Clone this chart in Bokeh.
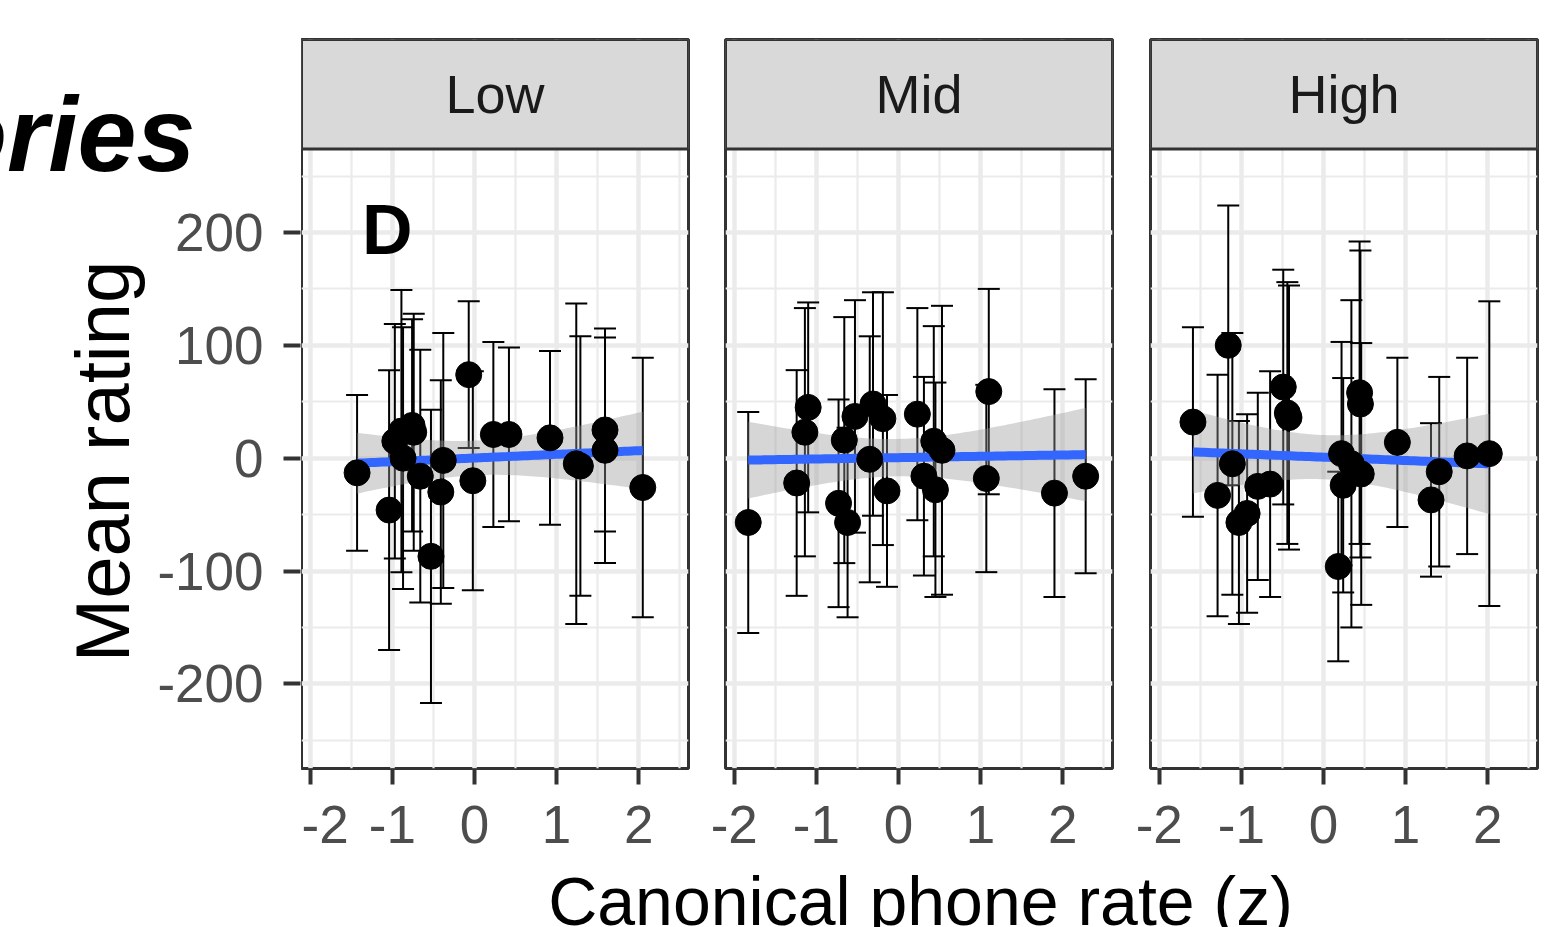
import numpy as np
from bokeh.plotting import figure
from bokeh.models import ColumnDataSource, Whisker, TeeHead, FixedTicker, Label, Range1d, Title
from bokeh.layouts import row, column
from bokeh.embed import file_html
from bokeh.resources import INLINE

# ---------------- data ----------------
facets = ["Low", "Mid", "High"]

low_x = [-1.43, -1.04, -0.97, -0.89, -0.87, -0.76, -0.74, -0.66, -0.53, -0.41, -0.38,
         -0.07, -0.02, 0.23, 0.42, 0.92, 1.24, 1.29, 1.59, 1.59, 2.05]
low_y = [-13, -46, 15, 24, 0, 29, 23, -16, -87, -30, -2,
         74, -20, 21, 21, 18, -5, -7, 25, 7, -26]
low_ci = [69, 124, 104, 125, 116, 94, 105, 112, 130, 99, 113,
          65, 97, 82, 77, 77, 142, 115, 90, 100, 115]

mid_x = [-1.83, -1.24, -1.14, -1.10, -0.73, -0.66, -0.62, -0.53, -0.35, -0.31, -0.19,
         -0.14, 0.23, 0.31, 0.43, 0.45, 0.53, 1.07, 1.10, 1.90, 2.28]
mid_y = [-57, -22, 23, 45, -40, 16, -57, 37, -1, 48, 35,
         -29, 39, -16, 15, -28, 7, -18, 59, -31, -16]
mid_ci = [98, 100, 110, 93, 92, 109, 84, 103, 109, 99, 112,
          85, 94, 88, 102, 95, 128, 83, 91, 92, 86]

high_x = [-1.59, -1.29, -1.16, -1.11, -1.03, -0.93, -0.80, -0.65, -0.49, -0.44, -0.42,
          0.18, 0.22, 0.24, 0.34, 0.44, 0.45, 0.46, 0.90, 1.31, 1.41, 1.75, 2.02]
high_y = [32, -33, 100, -5, -57, -49, -25, -23, 63, 40, 36,
          -96, 4, -24, -5, 58, 48, -14, 14, -37, -12, 2, 4]
high_ci = [84, 107, 124, 116, 90, 88, 83, 100, 104, 116, 117,
           84, 99, 95, 145, 134, 136, 116, 75, 68, 84, 87, 135]

x_ticks = [-2, -1, 0, 1, 2]
x_minor = [-1.5, -0.5, 0.5, 1.5, 2.5]
y_ticks = [-200, -100, 0, 100, 200]
y_minor = [-250, -150, -50, 50, 150, 250]

x_title = "Canonical phone rate (z)"
y_title = "Mean rating"
panel_tag = "D"
cut_heading = "ories"

# t quantiles (0.975) by residual degrees of freedom, as used by lm confidence bands
T975 = {19: 2.093, 20: 2.086, 21: 2.080}

# ---------------- layout constants ----------------
X_LO, X_HI = -2.107, 2.607
Y_LO, PANEL_TOP, STRIP_TOP = -275.0, 274.0, 371.0
FONT = "Liberation Sans"
FIG_H = 862
TOP_B, BOT_B = 39, 94
LEFT_W = 301          # width of the left figure (heading + y axis)
YAX_TOP, YAX_BOT = 192, 730   # frame of the axis figure (page pixels)
PX_PER_Y = (FIG_H - TOP_B - BOT_B) / (STRIP_TOP - Y_LO)


def page_to_val(py):
    return STRIP_TOP - (py - TOP_B) / PX_PER_Y


def fit_band(xs, ys):
    x = np.asarray(xs, float)
    y = np.asarray(ys, float)
    n = len(x)
    b1, b0 = np.polyfit(x, y, 1)
    xg = np.linspace(x.min(), x.max(), 80)
    yhat = b0 + b1 * xg
    resid = y - (b0 + b1 * x)
    s = np.sqrt(np.sum(resid ** 2) / (n - 2))
    sxx = np.sum((x - x.mean()) ** 2)
    se = s * np.sqrt(1.0 / n + (xg - x.mean()) ** 2 / sxx)
    t = T975[n - 2]
    return xg, yhat, yhat - t * se, yhat + t * se


def style_ticks(ax, ticks, minor, tick_out, standoff):
    ax.ticker = FixedTicker(ticks=ticks, minor_ticks=minor)
    ax.major_label_overrides = {t: str(t) for t in ticks}
    ax.axis_line_color = None
    ax.major_tick_line_color = "#333333"
    ax.major_tick_line_width = 4
    ax.major_tick_out = tick_out
    ax.major_tick_in = 0
    ax.minor_tick_line_color = None
    ax.major_label_text_font = FONT
    ax.major_label_text_font_size = "53px"
    ax.major_label_text_color = "#4D4D4D"
    ax.major_label_standoff = standoff


def make_panel(name, xs, ys, cis, width, bl, br):
    p = figure(width=width, height=FIG_H,
               x_range=Range1d(X_LO, X_HI), y_range=Range1d(Y_LO, STRIP_TOP),
               output_backend="svg", toolbar_location=None,
               min_border_left=bl, min_border_right=br,
               min_border_top=TOP_B, min_border_bottom=BOT_B,
               y_axis_location=None,
               background_fill_color="white", border_fill_color="white")
    p.outline_line_color = "#333333"
    p.outline_line_width = 3

    p.xgrid.ticker = FixedTicker(ticks=x_ticks, minor_ticks=x_minor)
    p.ygrid.ticker = FixedTicker(ticks=y_ticks, minor_ticks=y_minor)
    for g in (p.xgrid[0], p.ygrid[0]):
        g.grid_line_color = "#EBEBEB"
        g.grid_line_width = 4.5
        g.minor_grid_line_color = "#EBEBEB"
        g.minor_grid_line_width = 2.2

    style_ticks(p.xaxis[0], x_ticks, x_minor, 16, 21)

    # smooth (lm) band and line
    xg, yhat, lo, hi = fit_band(xs, ys)
    p.varea(x=xg, y1=lo, y2=hi, fill_color="#999999", fill_alpha=0.4)
    p.line(x=xg, y=yhat, line_color="#3366FF", line_width=9)

    # error bars + points
    xa = np.asarray(xs, float)
    ya = np.asarray(ys, float)
    ca = np.asarray(cis, float)
    src = ColumnDataSource(dict(x=xa, y=ya, lower=ya - ca, upper=ya + ca))
    w = Whisker(base="x", upper="upper", lower="lower", source=src,
                line_color="black", line_width=2,
                upper_head=TeeHead(size=22, line_color="black", line_width=2),
                lower_head=TeeHead(size=22, line_color="black", line_width=2))
    p.add_layout(w)
    p.scatter("x", "y", source=src, size=26, fill_color="black", line_color="black")

    # facet strip
    p.quad(left=X_LO, right=X_HI, bottom=PANEL_TOP, top=STRIP_TOP,
           fill_color="#D9D9D9", line_color="#333333", line_width=3)
    p.add_layout(Label(x=(X_LO + X_HI) / 2, y=(PANEL_TOP + STRIP_TOP) / 2, text=name,
                       text_align="center", text_baseline="middle",
                       text_font=FONT, text_font_size="54px", text_color="#1A1A1A"))
    return p


# ---- left figure: y axis (shared scale) with the cut-off heading as its title ----
f_yax = figure(width=LEFT_W, height=FIG_H, x_range=Range1d(0, 1),
               y_range=Range1d(page_to_val(YAX_BOT), page_to_val(YAX_TOP)),
               output_backend="svg", toolbar_location=None,
               min_border_left=LEFT_W - 1, min_border_right=0,
               min_border_top=YAX_TOP, min_border_bottom=FIG_H - YAX_BOT,
               x_axis_location=None, y_axis_location="left", outline_line_color=None,
               background_fill_color="white", border_fill_color="white")
f_yax.frame_align = False
f_yax.grid.visible = False
f_yax.title = Title(text=cut_heading, align="right", vertical_align="bottom",
                    offset=LEFT_W - 195, standoff=0,
                    text_font=FONT, text_font_size="106px",
                    text_font_style="bold italic", text_color="black")
ay = f_yax.yaxis[0]
style_ticks(ay, y_ticks, y_minor, 17, 20)
ay.axis_label = y_title
ay.axis_label_text_font = FONT
ay.axis_label_text_font_size = "76px"
ay.axis_label_text_font_style = "normal"
ay.axis_label_text_color = "black"
ay.axis_label_standoff = 9

p1 = make_panel(facets[0], low_x, low_y, low_ci, 706 - LEFT_W, 0, 18)
p2 = make_panel(facets[1], mid_x, mid_y, mid_ci, 425, 19, 19)
p3 = make_panel(facets[2], high_x, high_y, high_ci, 432, 19, 26)

p1.add_layout(Label(x=-1.37, y=202, text=panel_tag, text_align="left",
                    text_baseline="middle", text_font=FONT, text_font_size="70px",
                    text_font_style="bold", text_color="black"))

PB_H = 927 - FIG_H
pb = figure(width=1563, height=PB_H, x_range=Range1d(0, 1563), y_range=Range1d(0, PB_H),
            output_backend="svg", toolbar_location=None, min_border=0,
            x_axis_location=None, y_axis_location=None, outline_line_color=None)
pb.frame_align = False
pb.grid.visible = False
pb.add_layout(Label(x=920, y=PB_H - 38.5, text=x_title, text_align="center",
                    text_baseline="middle", text_font=FONT, text_font_size="68px",
                    text_color="black"))

# the axis figure sits in its own column so its frame is not aligned with the panels
layout = column(row(column(f_yax), p1, p2, p3), pb)
open("out.html", "w").write(file_html(layout, INLINE))
